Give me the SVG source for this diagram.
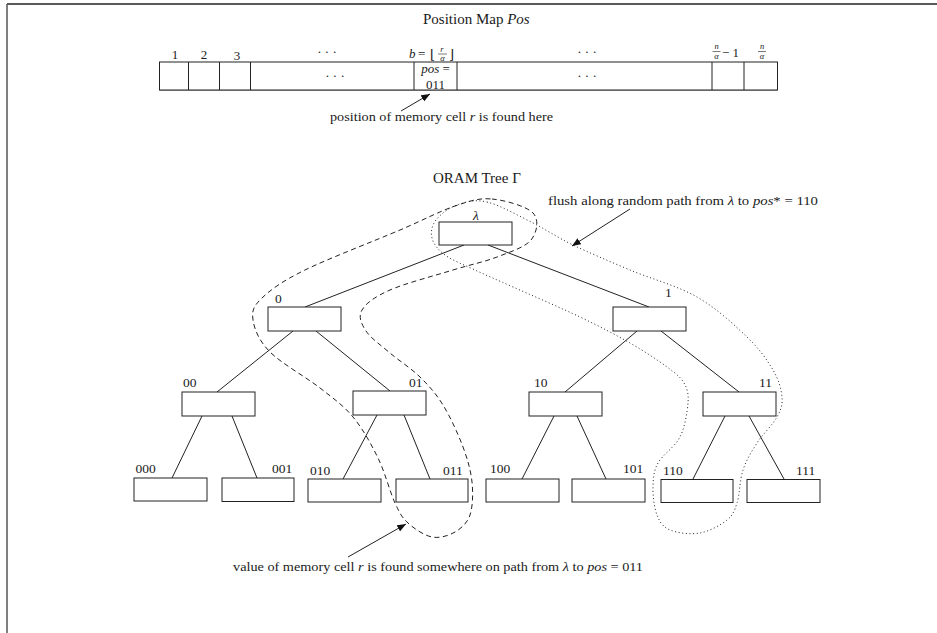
<svg xmlns="http://www.w3.org/2000/svg" width="937" height="633" viewBox="0 0 937 633">
<style>
  text { font-family: "Liberation Serif", "DejaVu Serif", serif; fill: #1a1a1a; }
  .t { font-size: 13.5px; }
  .s { font-size: 13px; }
  .it { font-style: italic; }
  .title { font-size: 15px; }
  .box { fill: #fff; stroke: #222; stroke-width: 1; }
  .edge { stroke: #222; stroke-width: 1; fill: none; }
  .dash { stroke: #222; stroke-width: 1; fill: none; stroke-dasharray: 5,3.5; }
  .dot { stroke: #222; stroke-width: 1; fill: none; stroke-dasharray: 1,2.6; }
  .arr { stroke: #222; stroke-width: 1; fill: none; marker-end: url(#ah); }
</style>
<defs>
  <marker id="ah" viewBox="0 0 10 8" refX="10" refY="4" markerWidth="9" markerHeight="7" markerUnits="userSpaceOnUse" orient="auto">
    <path d="M0,0 L10,4 L0,8 Z" fill="#111"/>
  </marker>
</defs>
<rect x="0" y="0" width="937" height="633" fill="#fff"/>
<g id="frame">
  <line x1="7" y1="4" x2="937" y2="4" stroke="#222" stroke-width="1.5"/>
  <line x1="7" y1="4" x2="7" y2="633" stroke="#555" stroke-width="1.5"/>
</g>

<g id="posmap">
  <text class="title" x="423" y="24">Position Map <tspan class="it">Pos</tspan></text>
  <rect class="box" x="159.5" y="62" width="618" height="28"/>
  <line x1="159.5" y1="90.5" x2="777.5" y2="90.5" stroke="#666" stroke-width="1.2"/>
  <g class="edge">
    <line x1="188.5" y1="62" x2="188.5" y2="90"/>
    <line x1="219.5" y1="62" x2="219.5" y2="90"/>
    <line x1="250.5" y1="62" x2="250.5" y2="90"/>
    <line x1="414" y1="62" x2="414" y2="90"/>
    <line x1="457" y1="62" x2="457" y2="90"/>
    <line x1="712" y1="62" x2="712" y2="90"/>
    <line x1="744" y1="62" x2="744" y2="90"/>
  </g>
  <g class="s" text-anchor="middle">
    <text x="175" y="58.5">1</text>
    <text x="204" y="59">2</text>
    <text x="237" y="60">3</text>
    <text x="327" y="55.5">· · ·</text>
    <text x="587" y="56">· · ·</text>
    <text x="335" y="79.5">· · ·</text>
    <text x="587" y="79.5">· · ·</text>
    <text x="435.5" y="73" class="it">pos <tspan font-style="normal">=</tspan></text>
    <text x="435.5" y="88.5">011</text>
  </g>
  <g id="blabel">
    <text class="s it" x="409" y="58">b</text>
    <text class="s" x="418" y="58">=</text>
    <text class="s" x="430" y="59">⌊</text>
    <text x="442" y="52" font-size="8.5" class="it" text-anchor="middle">r</text>
    <line x1="438" y1="54" x2="447" y2="54" stroke="#222" stroke-width="0.6"/>
    <text x="442.5" y="60.5" font-size="8.5" class="it" text-anchor="middle">α</text>
    <text class="s" x="449" y="59">⌋</text>
  </g>
  <g id="nlabel1">
    <text x="716.5" y="49" font-size="8.5" class="it" text-anchor="middle">n</text>
    <line x1="712.5" y1="51.5" x2="720.5" y2="51.5" stroke="#222" stroke-width="0.6"/>
    <text x="716.5" y="58.5" font-size="8.5" class="it" text-anchor="middle">α</text>
    <text class="s" x="722" y="57">− 1</text>
  </g>
  <g id="nlabel2">
    <text x="762" y="49" font-size="8.5" class="it" text-anchor="middle">n</text>
    <line x1="758" y1="51.5" x2="766" y2="51.5" stroke="#222" stroke-width="0.6"/>
    <text x="762" y="58.5" font-size="8.5" class="it" text-anchor="middle">α</text>
  </g>
  <text class="s" x="330" y="121" textLength="223" lengthAdjust="spacingAndGlyphs">position of memory cell <tspan class="it">r</tspan> is found here</text>
</g>

<text class="title" x="433" y="183">ORAM Tree Γ</text>

<g id="connectors">
  <line class="edge" x1="464" y1="245" x2="305" y2="307"/>
  <line class="edge" x1="488" y1="245" x2="649" y2="307"/>
  <line class="edge" x1="293" y1="331" x2="217" y2="392"/>
  <line class="edge" x1="316" y1="331" x2="390" y2="391"/>
  <line class="edge" x1="637" y1="331" x2="565" y2="392"/>
  <line class="edge" x1="661" y1="331" x2="739" y2="392"/>
  <line class="edge" x1="202" y1="416" x2="172" y2="478"/>
  <line class="edge" x1="232" y1="416" x2="257" y2="478"/>
  <line class="edge" x1="377" y1="415" x2="343" y2="479"/>
  <line class="edge" x1="404" y1="415" x2="430" y2="479"/>
  <line class="edge" x1="554" y1="416" x2="522" y2="479"/>
  <line class="edge" x1="577" y1="416" x2="606" y2="479"/>
  <line class="edge" x1="725" y1="416" x2="693" y2="479"/>
  <line class="edge" x1="749" y1="416" x2="784" y2="479"/>
  <line class="arr" x1="401" y1="111" x2="430" y2="94"/>
  <line class="arr" x1="630" y1="209" x2="572" y2="246"/>
  <line class="arr" x1="348" y1="557" x2="406" y2="524"/>
</g>

<g id="loops">
  <path class="dash" d="M492,199 C505,200.2 526.5,206.2 533,213 C539.5,219.8 537,232.7 531,240 C525,247.3 510,252 497,257 C484,262 470.8,264.5 453,270 C435.2,275.5 405.2,283.3 390,290 C374.8,296.7 366,303.2 362,310 C358,316.8 361.3,323.8 366,331 C370.7,338.2 381,345.3 390,353 C399,360.7 411.2,368.3 420,377 C428.8,385.7 435.8,393.3 443,405 C450.2,416.7 458.2,434.2 463,447 C467.8,459.8 470.8,470.7 472,482 C473.2,493.3 472.8,506.7 470,515 C467.2,523.3 461.3,528.3 455,532 C448.7,535.7 439.8,538.5 432,537 C424.2,535.5 414.2,528.7 408,523 C401.8,517.3 400,513.8 395,503 C390,492.2 385,472.3 378,458 C371,443.7 362.7,428.7 353,417 C343.3,405.3 333.8,398.8 320,388 C306.2,377.2 281.2,363.3 270,352 C258.8,340.7 254.3,329 253,320 C251.7,311 253.3,306.3 262,298 C270.7,289.7 282,281.3 305,270 C328,258.7 375,240.7 400,230 C425,219.3 439.7,211.2 455,206 C470.3,200.8 479,197.8 492,199 Z"/>
  <path class="dot" d="M487,202 C499.7,205 518.7,215.8 533,223 C547.3,230.2 556.8,237.2 573,245 C589.2,252.8 609.3,261.3 630,270 C650.7,278.7 677.5,285.8 697,297 C716.5,308.2 734.3,324.8 747,337 C759.7,349.2 767.2,360 773,370 C778.8,380 781.3,389.2 782,397 C782.7,404.8 781.2,409.3 777,417 C772.8,424.7 762.7,434.2 757,443 C751.3,451.8 746.3,460 743,470 C739.7,480 739.7,494.7 737,503 C734.3,511.3 733.2,515 727,520 C720.8,525 709.5,531.3 700,533 C690.5,534.7 677.2,533 670,530 C662.8,527 659.8,522.2 657,515 C654.2,507.8 652.8,495.7 653,487 C653.2,478.3 653.5,471.3 658,463 C662.5,454.7 675,447 680,437 C685,427 687.3,412 688,403 C688.7,394 687.5,389 684,383 C680.5,377 676,373.7 667,367 C658,360.3 644.5,351.3 630,343 C615.5,334.7 599.5,326.3 580,317 C560.5,307.7 530.5,294.8 513,287 C495.5,279.2 486.3,275.3 475,270 C463.7,264.7 452.2,260.3 445,255 C437.8,249.7 433.5,243.8 432,238 C430.5,232.2 431.8,225.5 436,220 C440.2,214.5 448.5,208 457,205 C465.5,202 474.3,199 487,202 Z"/>
</g>

<g id="n-root"><rect class="box" x="439" y="222" width="73" height="23"/><text class="t it" x="476" y="220" text-anchor="middle">λ</text></g>
<g id="n-0"><rect class="box" x="268" y="307" width="73" height="24"/><text class="t" x="275" y="303">0</text></g>
<g id="n-1"><rect class="box" x="613" y="307" width="73" height="24"/><text class="t" x="665" y="297">1</text></g>
<g id="n-00"><rect class="box" x="182" y="392" width="73" height="24"/><text class="t" x="183" y="387">00</text></g>
<g id="n-01"><rect class="box" x="353" y="391" width="73" height="24"/><text class="t" x="409" y="387">01</text></g>
<g id="n-10"><rect class="box" x="529" y="392" width="73" height="24"/><text class="t" x="534" y="387">10</text></g>
<g id="n-11"><rect class="box" x="703" y="392" width="73" height="24"/><text class="t" x="759" y="387">11</text></g>
<g id="n-000"><rect class="box" x="134" y="478" width="73" height="23"/><text class="t" x="135.5" y="473">000</text></g>
<g id="n-001"><rect class="box" x="222" y="478" width="72" height="23.5"/><text class="t" x="272" y="473">001</text></g>
<g id="n-010"><rect class="box" x="308" y="479" width="73" height="23"/><text class="t" x="310" y="475">010</text></g>
<g id="n-011"><rect class="box" x="396" y="479" width="72" height="23"/><text class="t" x="443" y="475">011</text></g>
<g id="n-100"><rect class="box" x="486" y="479" width="73" height="23"/><text class="t" x="490" y="473">100</text></g>
<g id="n-101"><rect class="box" x="572" y="479" width="73" height="23"/><text class="t" x="623" y="473">101</text></g>
<g id="n-110"><rect class="box" x="661" y="479.5" width="72" height="23"/><text class="t" x="663" y="475">110</text></g>
<g id="n-111"><rect class="box" x="747" y="479.5" width="73" height="23"/><text class="t" x="796" y="475">111</text></g>

<text class="s" x="548" y="205" textLength="270" lengthAdjust="spacingAndGlyphs">flush along random path from <tspan class="it">λ</tspan> to <tspan class="it">pos</tspan>* = 110</text>
<text class="s" x="233" y="571" textLength="410" lengthAdjust="spacingAndGlyphs">value of memory cell <tspan class="it">r</tspan> is found somewhere on path from <tspan class="it">λ</tspan> to <tspan class="it">pos</tspan> = 011</text>
</svg>
